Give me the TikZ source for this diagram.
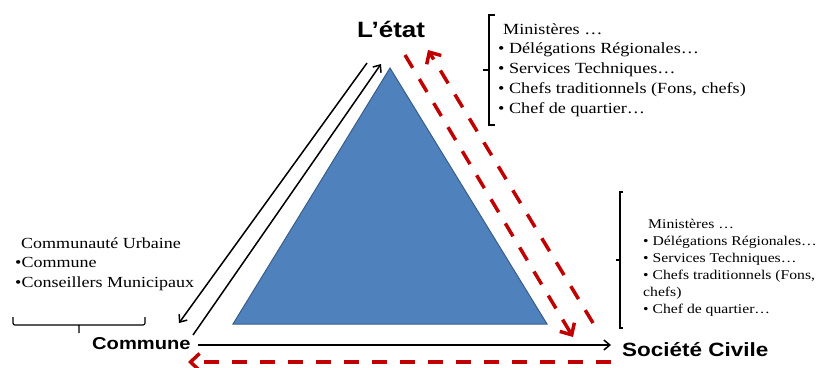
\documentclass[tikz,border=0pt]{standalone}
\usepackage{fontspec}
\setmainfont{Liberation Serif}[FakeStretch=1.17]
\newfontfamily\actorfont{Liberation Sans}[FakeStretch=1.17]
\usepackage{xcolor}
\usepackage{tikz}
\usetikzlibrary{arrows.meta}
\definecolor{triblue}{HTML}{4F81BD}
\definecolor{triedge}{HTML}{385D8A}
\definecolor{backred}{HTML}{C00000}

\begin{document}
\begin{tikzpicture}[x=1pt,y=-1pt,
  actor/.style={font=\actorfont\bfseries\fontsize{#1}{#1}\selectfont, inner sep=0pt, anchor=base west},
  members/.style 2 args={font=\fontsize{#1}{#2}\selectfont, inner sep=0pt, anchor=base west, align=left},
  plain/.style={-{Straight Barb[length=6pt,width=10pt]}, line width=1.5pt},
  back/.style={-{Straight Barb[length=9pt,width=17pt]}, line width=3.5pt, backred, dash pattern=on 15pt off 13pt},
  bracket/.style={line width=1.2pt}]
\useasboundingbox (0,0) rectangle (821,367);
\draw[fill=triblue, draw=triedge, line width=1pt] (390,68) -- (547,324) -- (233,324) -- cycle;
\node[actor=22.2] (etat) at (357,37.5) {L’état};
\node[actor=17.2] (commune) at (92,349.5) {Commune};
\node[actor=19.2] (societe) at (622,356.5) {Société Civile};
\node[members={15.5}{19.75}] (etatlist) at (498,113) {\hspace{5pt}Ministères …\\
  • Délégations Régionales…\\
  • Services Techniques…\\
  • Chefs traditionnels (Fons, chefs)\\
  • Chef de quartier…};
\node[members={15.4}{19.5}] (communelist) at (15,287) {\hspace{6pt}Communauté Urbaine\\
  •Commune\\
  •Conseillers Municipaux};
\node[members={13.4}{17}] (societelist) at (643,313) {\hspace{5pt}Ministères …\\
  • Délégations Régionales…\\
  • Services Techniques…\\
  • Chefs traditionnels (Fons,\\
  chefs)\\
  • Chef de quartier…};
\draw[bracket] (495,15) -- (489,15) -- (489,125) -- (495,125) (489,70) -- (483,70);
\draw[bracket] (623,192) -- (620,192) -- (620,328) -- (623,328) (620,260) -- (616,260);
\draw[bracket, rounded corners=2pt] (13,317) -- (13,325) -- (145,325) -- (145,317) (79,325) -- (79,333);
\coordinate (fromEtat) at (367,63);
\coordinate (toCommune) at (179,323);
\coordinate (fromCommune) at (193,335);
\coordinate (toEtat) at (381,64);
\coordinate (communeRight) at (198,345);
\coordinate (toSociete) at (611,345);
\coordinate (etatDown) at (405,55);
\coordinate (toSocieteBack) at (573,337);
\coordinate (societeUp) at (593,323);
\coordinate (toEtatBack) at (428,50);
\coordinate (societeLeft) at (611,362);
\coordinate (toCommuneBack) at (188,362);
\draw[plain] (fromEtat) -- (toCommune);
\draw[plain] (fromCommune) -- (toEtat);
\draw[plain] (communeRight) -- (toSociete);
\draw[back] (etatDown) -- (toSocieteBack);
\draw[back] (societeUp) -- (toEtatBack);
\draw[back] (societeLeft) -- (toCommuneBack);
\end{tikzpicture}
\end{document}
